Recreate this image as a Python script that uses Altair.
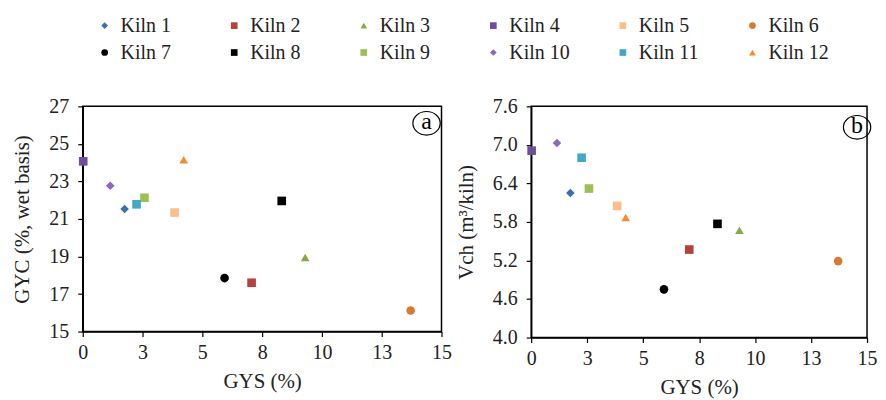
import altair as alt
import pandas as pd

kilns = [f"Kiln {i}" for i in range(1, 13)]
gys = [1.75, 7.06, 9.3, 0.02, 3.84, 13.71, 5.93, 8.32, 2.58, 1.15, 2.25, 4.22]
gyc = [21.53, 17.6, 18.95, 24.07, 21.34, 16.12, 17.85, 21.96, 22.13, 22.77, 21.78, 24.15]
vch = [6.25, 5.37, 5.67, 6.91, 6.05, 5.19, 4.75, 5.77, 6.32, 7.03, 6.80, 5.87]

colors = ["#3F6EB0", "#B8403D", "#86A944", "#6F4F9C", "#F9BE8C", "#D97A2E",
          "#000000", "#000000", "#9BC152", "#8C68BD", "#42A8C6", "#F58A2E"]
shapes = ["diamond", "square", "triangle-up", "square", "square", "circle",
          "circle", "square", "square", "diamond", "square", "triangle-up"]

x_ticks = [0, 2.5, 5, 7.5, 10, 12.5, 15]
gyc_ticks = [15, 17, 19, 21, 23, 25, 27]
vch_ticks = [4.0, 4.6, 5.2, 5.8, 6.4, 7.0, 7.6]

df = pd.DataFrame({"Kiln": kilns, "GYS": gys, "GYC": gyc, "Vch": vch})

FONT = "Liberation Serif"

color_scale = alt.Scale(domain=kilns, range=colors)
shape_scale = alt.Scale(domain=kilns, range=shapes)

ellipse = "M-1.1,0 A1.1,0.95 0 1,0 1.1,0 A1.1,0.95 0 1,0 -1.1,0 Z"

legend = alt.Legend(title=None, labelFont=FONT, labelFontSize=20, labelColor="#222")


def panel(field, title, ticks, fmt, w, h, letter, ax, ay):
    base = alt.Chart(df).mark_point(filled=True, opacity=1, size=75).encode(
        x=alt.X("GYS:Q", title="GYS (%)", scale=alt.Scale(domain=[0, 15], nice=False),
                axis=alt.Axis(values=x_ticks, labelExpr="round(datum.value)", grid=False,
                              tickSize=5, labelPadding=6, titlePadding=8,
                              labelFlush=False, labelFont=FONT, titleFont=FONT)),
        y=alt.Y(f"{field}:Q", title=title,
                scale=alt.Scale(domain=[ticks[0], ticks[-1]], nice=False, zero=False),
                axis=alt.Axis(values=ticks, format=fmt, grid=False, tickSize=5,
                              labelPadding=9, titlePadding=16, labelFlush=False,
                              labelFont=FONT, titleFont=FONT)),
        color=alt.Color("Kiln:N", scale=color_scale, sort=kilns, legend=legend),
        shape=alt.Shape("Kiln:N", scale=shape_scale, sort=kilns, legend=legend),
    )
    lab = pd.DataFrame({"t": [letter]})
    circ = alt.Chart(lab).mark_point(shape=ellipse, size=620, stroke="black",
                                     strokeWidth=1.2, filled=False, opacity=1).encode(
        x=alt.value(ax), y=alt.value(ay))
    txt = alt.Chart(lab).mark_text(font=FONT, fontSize=24, color="black",
                                   baseline="middle", dy=-1).encode(
        x=alt.value(ax), y=alt.value(ay), text="t:N")
    return alt.layer(base, circ, txt).properties(width=w, height=h)


pa = panel("GYC", "GYC (%, wet basis)", gyc_ticks, "d", 360, 226, "a", 345, 17)
pb = panel("Vch", "Vch (m³/kiln)", vch_ticks, ".1f", 337, 232, "b", 327, 21)

chart = alt.hconcat(pa, pb, spacing=2).configure(
    font=FONT, padding={"left": 3, "top": 7, "right": 0, "bottom": 2}
).configure_view(
    stroke="black", strokeWidth=1.5
).configure_axis(
    labelFont=FONT, titleFont=FONT, labelFontSize=20, titleFontSize=21,
    labelColor="#222", titleColor="#222", titleFontWeight="normal",
    domainColor="black", tickColor="black", domainWidth=1.5, tickWidth=1.2,
).configure_legend(
    orient="none", legendX=12, legendY=-91, columns=6, gridAlign="all",
    direction="horizontal",
    labelFont=FONT, labelFontSize=20, labelColor="#222", symbolSize=45,
    columnPadding=43, rowPadding=7, labelOffset=6, symbolStrokeWidth=0,
).configure_concat(spacing=2)

chart.save("out.html", embed_options={"renderer": "svg", "actions": False})
